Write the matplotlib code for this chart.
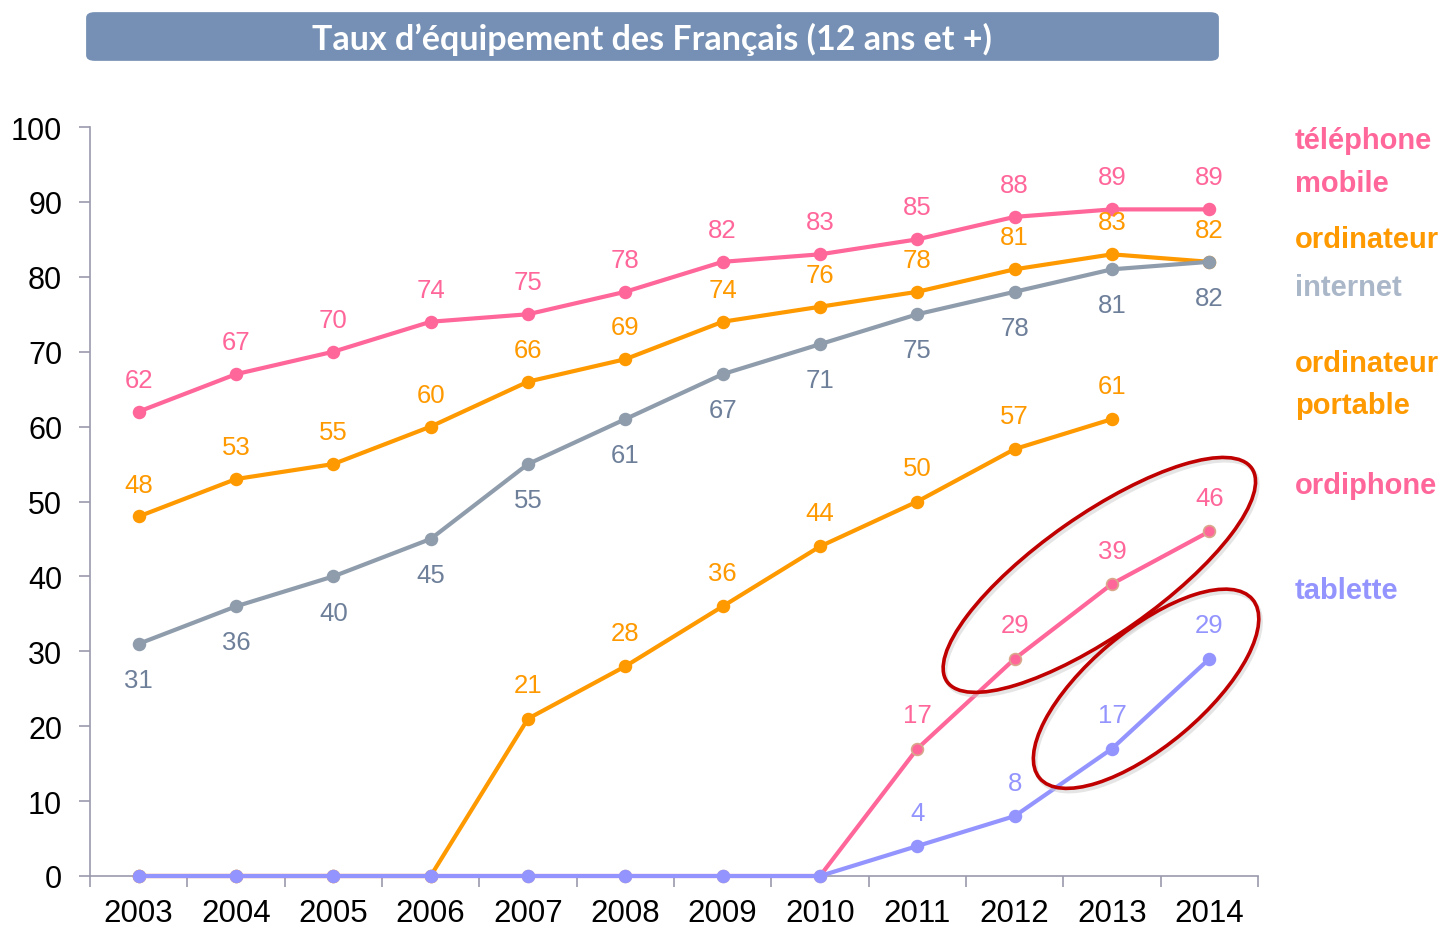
import numpy as np
import matplotlib
matplotlib.use("Agg")
import matplotlib.pyplot as plt
from matplotlib.patches import Ellipse, FancyBboxPatch
from matplotlib.transforms import ScaledTranslation

plt.rcParams['font.family'] = ['Liberation Sans', 'DejaVu Sans']

# data
years = ['2003', '2004', '2005', '2006', '2007', '2008', '2009', '2010',
         '2011', '2012', '2013', '2014']
mobile = [62, 67, 70, 74, 75, 78, 82, 83, 85, 88, 89, 89]
ordinateur = [48, 53, 55, 60, 66, 69, 74, 76, 78, 81, 83, 82]
internet = [31, 36, 40, 45, 55, 61, 67, 71, 75, 78, 81, 82]
portable = [0, 0, 0, 0, 21, 28, 36, 44, 50, 57, 61, np.nan]
ordiphone = [0, 0, 0, 0, 0, 0, 0, 0, 17, 29, 39, 46]
tablette = [0, 0, 0, 0, 0, 0, 0, 0, 4, 8, 17, 29]

PINK = '#FF6699'
ORANGE = '#FF9900'
GREY = '#8F9CAC'
GREY_TXT = '#6E7F9A'
PURPLE = '#9494FF'

W, H = 1443, 929
fig = plt.figure(figsize=(W / 100, H / 100), dpi=100)
ax = fig.add_axes([90 / W, (H - 877) / H, (1258 - 90) / W, (877 - 128) / H])
x = np.arange(len(years))


def draw(vals, color, lab_color, dy, mec=None):
    vals = np.array(vals, dtype=float)
    ax.plot(x, vals, color=color, lw=3, marker='o', ms=8.5,
            mfc=color, mec=mec or color, mew=1.2, solid_capstyle='round',
            clip_on=False, zorder=3)
    for xi, v in zip(x, vals):
        if np.isnan(v) or v == 0:
            continue
        ax.annotate(f'{v:.0f}', (xi, v), xytext=(0, dy), textcoords='offset points',
                    ha='center', va='center', fontsize=18.5, color=lab_color)


draw(mobile, PINK, PINK, 23)
draw(ordinateur, ORANGE, ORANGE, 23)
draw(internet, GREY, GREY_TXT, -26)
draw(portable, ORANGE, ORANGE, 24)
draw(ordiphone, PINK, PINK, 24, mec='#D9A88C')
draw(tablette, PURPLE, PURPLE, 24)

ax.set_xlim(-0.5, 11.5)
ax.set_ylim(0, 100)
ax.set_yticks(range(0, 101, 10))
ax.set_xticks(x)
ax.set_xticklabels(years)
ax.set_xticks(np.arange(-0.5, 12, 1), minor=True)
ax.tick_params(axis='x', which='major', length=0, labelsize=22.5, pad=16)
ax.tick_params(axis='x', which='minor', length=8, width=1.2, color='#9A9AAE', direction='out')
ax.tick_params(axis='y', length=8, width=1.2, color='#9A9AAE', labelsize=22, pad=12)
for s in ['top', 'right']:
    ax.spines[s].set_visible(False)
for s in ['left', 'bottom']:
    ax.spines[s].set_color('#9A9AAE')
    ax.spines[s].set_linewidth(1.2)

# ellipses highlighting the recent growth
for cx, cy, w, h, ang in [(9.87, 40.2, 3.72, 1.2, 35), (10.35, 25.0, 2.78, 1.15, 40)]:
    tr_sh = fig.dpi_scale_trans + ScaledTranslation(cx, cy, ax.transData) + \
        ScaledTranslation(0.02, -0.03, fig.dpi_scale_trans)
    ax.add_patch(Ellipse((0, 0), w, h, angle=ang, fill=False, ec='#CCCCCC', lw=3,
                         alpha=0.5, transform=tr_sh, clip_on=False, zorder=4))
    tr = fig.dpi_scale_trans + ScaledTranslation(cx, cy, ax.transData)
    ax.add_patch(Ellipse((0, 0), w, h, angle=ang, fill=False, ec='#C00000', lw=2.6,
                         transform=tr, clip_on=False, zorder=5))

# legend texts on the right
legend = [('téléphone', 141, PINK), ('mobile', 184, PINK), ('ordinateur', 240, ORANGE),
          ('internet', 288, '#AAB7C9'), ('ordinateur', 364, ORANGE), ('portable', 406, ORANGE),
          ('ordiphone', 486, PINK), ('tablette', 591, PURPLE)]
for txt, yp, c in legend:
    fig.text(1295 / W, 1 - yp / H, txt, color=c, fontsize=21, fontweight='bold',
             ha='left', va='center')

# title banner
fig.patches.append(FancyBboxPatch((89 / W, 1 - 60 / H), (1216 - 89) / W, 45 / H,
                                  boxstyle='round,pad=0.002,rounding_size=0.006',
                                  transform=fig.transFigure, fc='#7590B4', ec='none'))
fig.text(652 / W, 1 - 39 / H, 'Taux d’équipement des Français (12 ans et +)',
         color='white', fontsize=24.5, fontweight='bold', family=['Lato', 'DejaVu Sans'],
         ha='center', va='center')

fig.savefig('out.png', dpi=100)
